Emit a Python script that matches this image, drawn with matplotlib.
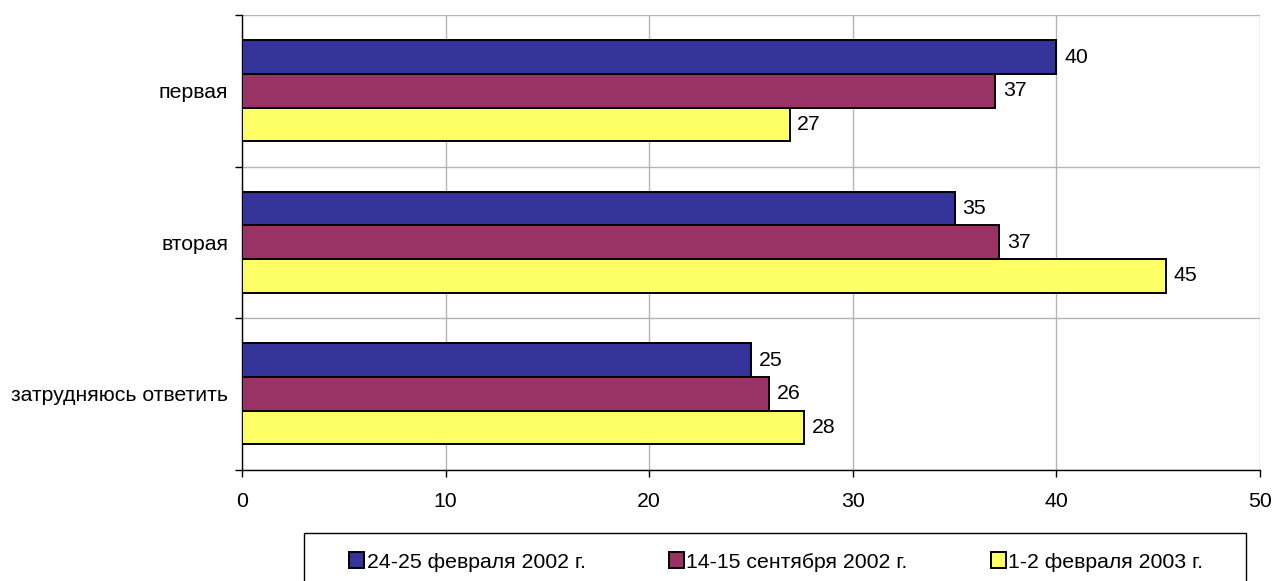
import matplotlib
matplotlib.use("Agg")
import matplotlib.pyplot as plt
from matplotlib.patches import Rectangle
import numpy as np

plt.rcParams['font.family'] = ['Liberation Sans', 'DejaVu Sans']

categories = ["первая", "вторая", "затрудняюсь ответить"]
series_names = ["24-25 февраля 2002 г.", "14-15 сентября 2002 г.", "1-2 февраля 2003 г."]
s1 = [40.0, 35.0, 25.0]
s2 = [37.0, 37.2, 25.9]
s3 = [26.9, 45.4, 27.6]
labels1 = [40, 35, 25]
labels2 = [37, 37, 26]
labels3 = [27, 45, 28]
xticks = [0, 10, 20, 30, 40, 50]
colors = ["#333399", "#993366", "#FFFF66"]

FS = 15.3
W, H = 1274, 581
fig = plt.figure(figsize=(W/100, H/100), dpi=100)
ax = fig.add_axes([242/W, 1 - 469.5/H, (1260-242)/W, (469.5-15)/H])

y = np.arange(len(categories))
h = 0.222
handles = []
for i, (vals, labs) in enumerate(zip([s1, s2, s3], [labels1, labels2, labels3])):
    pos = y + (i - 1) * h
    bars = ax.barh(pos, vals, height=h, color=colors[i], edgecolor="black",
                   linewidth=1.4, label=series_names[i], zorder=3)
    handles.append(bars)
    for b, lab in zip(bars, labs):
        ax.annotate(str(lab), (b.get_width(), b.get_y() + b.get_height()/2),
                    xytext=(5.5, 0), textcoords="offset points", va="center",
                    ha="left", fontsize=FS)

ax.set_xlim(0, 50)
ax.set_ylim(2.5, -0.5)
ax.set_xticks(xticks)
ax.set_xticklabels([str(t) for t in xticks], fontsize=FS)
ax.set_yticks(y)
ax.set_yticklabels(categories, fontsize=FS)
ax.set_yticks([-0.5, 0.5, 1.5, 2.5], minor=True)
ax.tick_params(axis="y", which="major", length=0, pad=10)
ax.tick_params(axis="y", which="minor", length=5, width=1, direction="out")
ax.tick_params(axis="x", which="major", length=5, width=1, direction="out", pad=11)
ax.grid(axis="x", which="major", color="#b4b4b4", linewidth=1.0, zorder=0)
ax.grid(axis="y", which="minor", color="#b4b4b4", linewidth=1.0, zorder=0)
for side in ["top", "right"]:
    ax.spines[side].set_visible(False)
for side in ["left", "bottom"]:
    ax.spines[side].set_linewidth(1.0)
ax.set_axisbelow(True)

# legend frame
fig.patches.append(Rectangle((304/W, -0.02), (1246-304)/W, (H-533)/H + 0.02,
                             transform=fig.transFigure, fill=False,
                             edgecolor="black", linewidth=1.0))
leg = fig.legend(handles=handles, labels=series_names, loc="center left",
                 bbox_to_anchor=(349/W, (H-562)/H), ncol=3, fontsize=FS,
                 frameon=False, handlelength=0.72, handleheight=0.72,
                 handletextpad=0.12, borderaxespad=0, borderpad=0,
                 columnspacing=3.9)

fig.savefig("out.png", dpi=100)
